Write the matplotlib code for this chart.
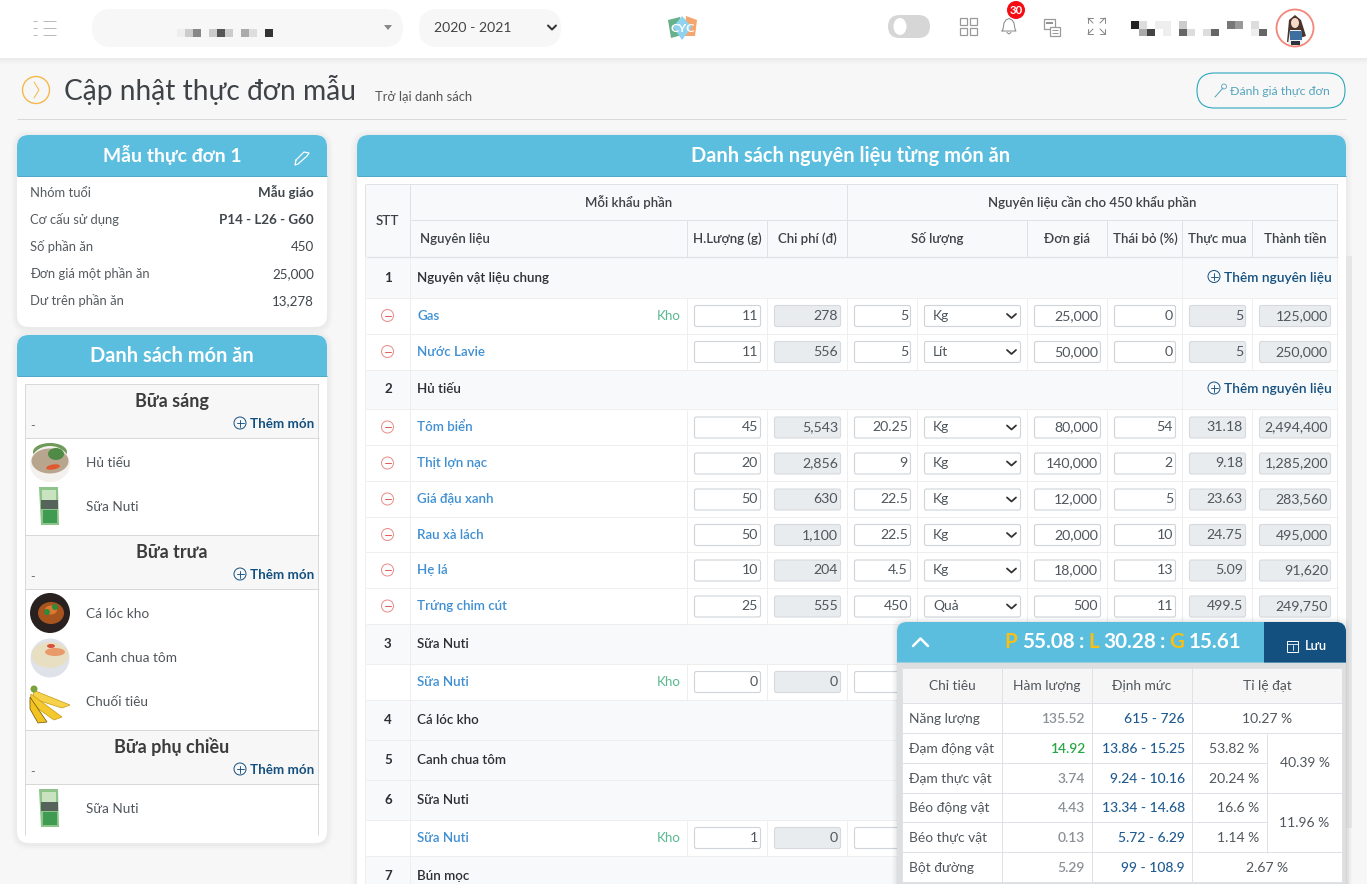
import matplotlib
matplotlib.use("Agg")
import matplotlib.pyplot as plt
from matplotlib.patches import Rectangle, FancyBboxPatch, Circle, Ellipse, Polygon, PathPatch
from matplotlib.path import Path

# ---------------- data ----------------
info_labels = ["Nhóm tuổi", "Cơ cấu sử dụng", "Số phần ăn", "Đơn giá một phần ăn", "Dư trên phần ăn"]
info_values = ["Mẫu giáo", "P14 - L26 - G60", "450", "25,000", "13,278"]

names = ["Gas", "Nước Lavie", "Tôm biển", "Thịt lợn nạc", "Giá đậu xanh", "Rau xà lách", "Hẹ lá", "Trứng chim cút"]
kho = [True, False, False, False, False, False, False, False]
hluong = ["11", "11", "45", "20", "50", "50", "10", "25"]
chiphi = ["278", "556", "5,543", "2,856", "630", "1,100", "204", "555"]
soluong = ["5", "5", "20.25", "9", "22.5", "22.5", "4.5", "450"]
donvi = ["Kg", "Lít", "Kg", "Kg", "Kg", "Kg", "Kg", "Quả"]
dongia = ["25,000", "50,000", "80,000", "140,000", "12,000", "20,000", "18,000", "500"]
thaibo = ["0", "0", "54", "2", "5", "10", "13", "11"]
thucmua = ["5", "5", "31.18", "9.18", "23.63", "24.75", "5.09", "499.5"]
thanhtien = ["125,000", "250,000", "2,494,400", "1,285,200", "283,560", "495,000", "91,620", "249,750"]

chi_tieu = ["Năng lượng", "Đạm động vật", "Đạm thực vật", "Béo động vật", "Béo thực vật", "Bột đường"]
ham_luong = ["135.52", "14.92", "3.74", "4.43", "0.13", "5.29"]
dinh_muc = ["615 - 726", "13.86 - 15.25", "9.24 - 10.16", "13.34 - 14.68", "5.72 - 6.29", "99 - 108.9"]
ti_le = ["10.27 %", "53.82 %", "20.24 %", "16.6 %", "1.14 %", "2.67 %"]
ti_le_group = ["40.39 %", "11.96 %"]

# ---------------- palette ----------------
BLUE = "#5bbedf"; BLUE_D = "#4fa9c8"; NAVY = "#14507f"; TXT = "#3a3f44"; INP = "#4f565c"
LINK = "#3f8fd2"; LINE = "#eeeeee"; GROUP = "#f8f9fa"; BORD = "#ced4da"; DIS = "#e9ecef"; PAGE = "#f7f7f7"
FONT = ["Lato", "Noto Sans", "DejaVu Sans"]

fig = plt.figure(figsize=(13.67, 8.84), dpi=100, facecolor=PAGE)
ax = fig.add_axes([0, 0, 1, 1])
ax.set_xlim(0, 1367); ax.set_ylim(884, 0); ax.axis("off")


def T(x, y, s, px=13, c=TXT, ha="left", w="normal", z=10):
    return ax.text(x, y + 0.36 * px, s, fontsize=px * 0.72 * 1.03, color=c, ha=ha, va="baseline",
                   fontweight=w, family=FONT, zorder=z)


def R(x0, y0, x1, y1, fc, ec="none", lw=0, z=1):
    ax.add_patch(Rectangle((x0, y0), x1 - x0, y1 - y0, fc=fc, ec=ec, lw=lw, zorder=z))


def RR(x0, y0, x1, y1, r, fc, ec="none", lw=0, z=1, alpha=None):
    ax.add_patch(FancyBboxPatch((x0, y0), x1 - x0, y1 - y0, boxstyle=f"round,pad=0,rounding_size={r}",
                                fc=fc, ec=ec, lw=lw, zorder=z, alpha=alpha))


def TOP(x0, y0, x1, y1, r, fc, z=2):
    v = [(x0, y1), (x0, y0 + r), (x0, y0), (x0 + r, y0), (x1 - r, y0), (x1, y0), (x1, y0 + r), (x1, y1), (x0, y1)]
    c = [Path.MOVETO, Path.LINETO, Path.CURVE3, Path.CURVE3, Path.LINETO, Path.CURVE3, Path.CURVE3, Path.LINETO, Path.CLOSEPOLY]
    ax.add_patch(PathPatch(Path(v, c), fc=fc, ec="none", zorder=z))


def HL(x0, x1, y, c=LINE, lw=1, z=3):
    ax.plot([x0, x1], [y - .5, y - .5], color=c, lw=lw * 0.72, zorder=z, solid_capstyle="butt")


def VL(x, y0, y1, c=LINE, lw=1, z=3):
    ax.plot([x - .5, x - .5], [y0, y1], color=c, lw=lw * 0.72, zorder=z, solid_capstyle="butt")


def L(xs, ys, c, lw=1, z=6):
    ax.plot(xs, ys, color=c, lw=lw * 0.72, zorder=z, solid_capstyle="round", solid_joinstyle="round")


def shadow(x0, y0, x1, y1, r):
    for g, a in ((6, .012), (4, .015), (2, .02)):
        RR(x0 - g, y0 - g + 1, x1 + g, y1 + g + 1, r + g, "#000000", z=0.5, alpha=a)


# ---------------- top bar ----------------
for g, a in ((6, .012), (4, .015), (2, .02)):
    R(0, 58, 1367, 58 + g, "#000000", z=0.6)
    ax.patches[-1].set_alpha(a)
R(0, 0, 1367, 58, "white", z=1)
for yy in (21, 28, 35):
    HL(33, 37, yy, "#bbbbbb"); HL(43, 56, yy, "#bbbbbb")
RR(92, 9, 403, 47, 19, PAGE, z=2)
RR(419, 9, 561, 47, 19, PAGE, z=2)
ax.add_patch(Polygon([(384, 25), (392, 25), (388, 30)], fc="#888888", ec="none", zorder=3))
T(434, 27, "2020 - 2021", 13.6, "#444444")
L([548, 552, 556], [25.5, 29.5, 25.5], "#333333", 2)
for x, c in zip([177, 185, 193, 209, 217, 225, 241, 249, 265],
                ["#eeeeee", "#cccccc", "#888888", "#cccccc", "#555555", "#cccccc", "#aaaaaa", "#dddddd", "#333333"]):
    R(x, 29, x + 8, 37, c, z=3)

# logo
ax.add_patch(Polygon([(668, 20), (680, 17), (682, 35), (671, 38)], fc="#66b08a", ec="none", zorder=3))
ax.add_patch(Polygon([(686, 16), (697, 20), (695, 36), (684, 36)], fc="#f4a66e", ec="none", zorder=3))
ax.add_patch(Polygon([(682, 16), (692, 27), (682, 40), (673, 27)], fc="#8fd3f0", ec="none", zorder=4))
T(682.5, 28, "CYC", 12, "white", ha="center", w="bold", z=5)

# toggle
RR(888, 15, 930, 38, 11.5, "#d6d6d6", z=3)
ax.add_patch(Ellipse((900, 26.5), 13, 17, fc="white", ec="none", zorder=4))
# grid icon
for xx in (960, 970):
    for yy in (18, 28):
        R(xx, yy, xx + 7, yy + 7, "none", "#999999", 0.9, z=4)
# bell
L([1002, 1003, 1004, 1006, 1009, 1012, 1014, 1015, 1016, 1002],
  [31, 29, 23, 20, 18.5, 20, 23, 29, 31, 31], "#888888", 1)
L([1007, 1009, 1011], [32.5, 34, 32.5], "#888888", 1)
ax.add_patch(Circle((1016, 10), 9, fc="#f40d12", ec="none", zorder=6))
T(1016, 10, "30", 11, "white", ha="center", w="bold", z=7)
# chat
R(1044, 19, 1055, 29, "none", "#999999", 0.9, z=4)
HL(1046, 1053, 23, "#777777", 1.6)
R(1050, 27, 1060, 36, "white", "#999999", 0.9, z=5)
HL(1052, 1058, 30, "#999999", 1, 6); HL(1052, 1058, 33, "#999999", 1, 6)
# fullscreen
for sx, sy, cx, cy in ((1, 1, 1088, 18), (-1, 1, 1105, 18), (1, -1, 1088, 34), (-1, -1, 1105, 34)):
    L([cx + sx * 5, cx, cx, ], [cy, cy, cy + sy * 5], "#888888", 1)
    L([cx, cx + sx * 5], [cy, cy + sy * 5], "#888888", 1)
# blurred name
top_blocks = [(1131, "#222222"), (1139, "#dddddd"), (1155, "#eeeeee"), (1163, "#eeeeee"), (1179, "#cccccc"),
              (1227, "#777777"), (1235, "#999999"), (1251, "#dddddd")]
low_blocks = [(1139, "#aaaaaa"), (1147, "#444444"), (1163, "#eeeeee"), (1179, "#666666"), (1187, "#dddddd"),
              (1203, "#dddddd"), (1211, "#666666"), (1251, "#eeeeee"), (1259, "#666666")]
for x, c in top_blocks:
    R(x, 21, x + 8, 29, c, z=3)
for x, c in low_blocks:
    R(x, 29, x + 8, 36, c, z=3)
# avatar
ax.add_patch(Circle((1295, 28), 18.5, fc="white", ec="#f5867a", lw=1.3, zorder=3))
ax.add_patch(Polygon([(1287, 42), (1289, 20), (1295, 15), (1301, 20), (1306, 36), (1300, 38), (1290, 42)],
                     fc="#4a3328", ec="none", zorder=4))
ax.add_patch(Ellipse((1295, 23), 8, 10, fc="#f6d9c8", ec="none", zorder=5))
ax.add_patch(Polygon([(1288, 44), (1290, 30), (1301, 30), (1303, 44)], fc="#eef0f2", ec="none", zorder=5))
R(1289.5, 31, 1301.5, 40, "#3f6ea0", z=6)
R(1291, 41, 1300, 45, "#2c3440", z=6)

# ---------------- page title ----------------
ax.add_patch(Circle((36, 90), 13.5, fc="none", ec="#f7b84b", lw=1.0, zorder=3))
L([34, 39, 34], [82, 90, 98], "#f7b84b", 1)
T(64, 90, "Cập nhật thực đơn mẫu", 27.3, "#3f4347")
T(375, 96, "Trở lại danh sách", 12.6, "#555555")
RR(1197, 73, 1345, 108, 17.5, PAGE, "#2ba7bd", 0.8, z=3)
T(1230, 91, "Đánh giá thực đơn", 11.9, "#55a4bd")
L([1215, 1223], [97, 88], "#55a4bd", 1)
ax.add_patch(Circle((1224, 86.5), 2.5, fc="none", ec="#55a4bd", lw=.6, zorder=5))
HL(17, 1346, 119, "#d9d9d9")

# ---------------- left card 1 ----------------
shadow(17, 135, 327, 327, 12)
RR(17, 135, 327, 327, 12, "white", z=1)
TOP(17, 135, 327, 176, 12, BLUE)
HL(17, 327, 176, BLUE_D, 1)
T(172, 155, "Mẫu thực đơn 1", 18.8, "white", ha="center", w="bold")
L([296, 304, 309, 307, 298, 295, 296], [160, 152, 153, 156, 164, 165, 160], "white", 1.2)
for i, (a, b) in enumerate(zip(info_labels, info_values)):
    y = 192 + 27 * i
    T(30, y, a, 12.6, "#555a5f")
    T(314, y, b, 13, "#40464b", ha="right", w="bold" if i < 2 else "normal")

# ---------------- left card 2 ----------------
shadow(17, 335, 327, 843, 12)
RR(17, 335, 327, 843, 12, "white", z=1)
TOP(17, 335, 327, 376, 12, BLUE)
HL(17, 327, 376, BLUE_D, 1)
T(172, 355, "Danh sách món ăn", 19.4, "white", ha="center", w="bold")


def plus(cx, cy, r, c=NAVY):
    ax.add_patch(Circle((cx, cy), r, fc="none", ec=c, lw=.7, zorder=6))
    L([cx - r + 2.5, cx + r - 2.5], [cy, cy], c, .9); L([cx, cx], [cy - r + 2.5, cy + r - 2.5], c, .9)


meal_titles = ["Bữa sáng", "Bữa trưa", "Bữa phụ chiều"]
meal_tops = [384, 535, 730]
for title, y0 in zip(meal_titles, meal_tops):
    R(25, y0, 319, y0 + 54, PAGE, z=2)
    HL(25, 319, y0 + .5, "#d8d8d8"); HL(25, 319, y0 + 54.5, "#d8d8d8")
    T(172, y0 + 16.5, title, 17.5, "#3c3c3c", ha="center", w="bold")
    T(30, y0 + 41, "-", 12, "#555555")
    plus(240, y0 + 39, 6)
    T(250, y0 + 39, "Thêm món", 13, NAVY, w="bold")
VL(25.5, 384, 835, "#d8d8d8"); VL(318.5, 384, 835, "#d8d8d8")

dishes = ["Hủ tiếu", "Sữa Nuti", "Cá lóc kho", "Canh chua tôm", "Chuối tiêu", "Sữa Nuti"]
dish_y = [462, 506, 613, 657, 701, 808]
dish_kind = ["soup", "milk", "fish", "soup2", "banana", "milk"]
for name, y, k in zip(dishes, dish_y, dish_kind):
    T(86, y, name, 13.2, "#50565b")
    cx = 50
    if k == "soup":
        ax.add_patch(Ellipse((cx, y - 10), 34, 18, fc="#6f9a58", ec="none", zorder=3))
        ax.add_patch(Ellipse((cx, y + 2), 40, 36, fc="#f3f1ee", ec="none", zorder=3.5))
        ax.add_patch(Ellipse((cx, y - 1), 37, 25, fc="#b8a58e", ec="none", zorder=4))
        ax.add_patch(Ellipse((cx + 6, y - 8), 16, 12, fc="#4f8a46", ec="none", zorder=5))
        ax.add_patch(Ellipse((cx + 3, y + 5), 14, 5, angle=-10, fc="#e2582e", ec="none", zorder=5))
    elif k == "soup2":
        ax.add_patch(Circle((cx, y + 1), 19.5, fc="#dfe2e8", ec="none", zorder=3))
        ax.add_patch(Ellipse((cx, y - 2), 37, 26, fc="#e8dfc3", ec="none", zorder=4))
        ax.add_patch(Ellipse((cx + 5, y - 5), 20, 8, fc="#e89a6a", ec="none", zorder=5))
        ax.add_patch(Ellipse((cx + 1, y - 11), 8, 4, fc="#d8503a", ec="none", zorder=5))
    elif k == "milk":
        ax.add_patch(Polygon([(39, y - 19), (58, y - 19), (59, y + 19), (41, y + 19)], fc="#8cc48a", ec="none", zorder=3))
        R(42, y - 16, 56, y - 5, "#c9e2bf", z=4)
        R(41, y - 6, 58, y + 3, "#55635a", z=4)
        R(43, y + 4, 57, y + 17, "#3f9a52", z=4)
    elif k == "fish":
        ax.add_patch(Circle((cx, y), 20, fc="#29211f", ec="none", zorder=3))
        ax.add_patch(Ellipse((cx + 1, y), 26, 22, fc="#a8541f", ec="none", zorder=4))
        ax.add_patch(Ellipse((cx + 1, y - 3), 12, 9, fc="#d9792f", ec="none", zorder=5))
        ax.add_patch(Circle((cx + 5, y - 6), 3, fc="#2f8a3a", ec="none", zorder=6))
        ax.add_patch(Circle((cx - 3, y - 1), 3, fc="#2f8a3a", ec="none", zorder=6))
    else:
        v = [(33, y - 11), (70, y + 4), (62, y + 7), (34, y - 2)]
        ax.add_patch(Polygon(v, fc="#f6d24a", ec="#c79a12", lw=.5, zorder=4))
        v = [(31, y - 7), (62, y + 16), (54, y + 19), (30, y + 2)]
        ax.add_patch(Polygon(v, fc="#f4c92e", ec="#c79a12", lw=.5, zorder=5))
        v = [(30, y - 4), (47, y + 21), (38, y + 22), (30, y + 8)]
        ax.add_patch(Polygon(v, fc="#f2c21f", ec="#6b5210", lw=.5, zorder=6))
        ax.add_patch(Circle((34, y - 12), 3.5, fc="#7ba23c", ec="none", zorder=7))

# ---------------- main panel ----------------
R(1346, 256, 1352, 828, "#e6e6e6", z=0.7)
shadow(357, 135, 1346, 900, 12)
RR(357, 135, 1346, 900, 12, "white", z=1)
TOP(357, 135, 1346, 176, 12, BLUE)
HL(357, 1346, 176, BLUE_D, 1)
T(851, 155, "Danh sách nguyên liệu từng món ăn", 19.4, "white", ha="center", w="bold")

X = [365.5, 410.5, 687.5, 767.5, 847.5, 917.5, 1027.5, 1107.5, 1182.5, 1252.5, 1337.5]
R(X[0], 184, X[-1], 257, GROUP, z=1.5)
HEAD = "#dee2e6"
HL(X[0], X[-1], 184.5, HEAD); HL(X[1], X[-1], 220.5, HEAD); HL(X[0], X[-1], 257, HEAD, 1.2)
VL(X[0], 184, 257, HEAD); VL(X[1], 184, 257, HEAD); VL(X[-1], 184, 257, HEAD)
VL(X[4], 184, 257, HEAD)
for xx in (X[2], X[3], X[6], X[7], X[8], X[9]):
    VL(xx, 220, 257, HEAD)
HEADC = "#3c4247"
T(387.5, 220, "STT", 13, HEADC, ha="center", w=600)
T(629, 202, "Mỗi khẩu phần", 12.9, HEADC, ha="center", w=600)
T(1092.5, 202, "Nguyên liệu cần cho 450 khẩu phần", 12.9, HEADC, ha="center", w=600)
head_labels = ["Nguyên liệu", "H.Lượng (g)", "Chi phí (đ)", "Số lượng", "Đơn giá", "Thái bỏ (%)", "Thực mua", "Thành tiền"]
head_x = [420, 727.5, 807.5, 937.5, 1067, 1145, 1217.5, 1295]
for i, (lab, hx) in enumerate(zip(head_labels, head_x)):
    T(hx, 238.5, lab, 12.9, HEADC, ha="left" if i == 0 else "center", w=600)


def inp(x0, x1, yc, s, disabled=False):
    fc = DIS if disabled else "white"
    RR(x0 + .5, yc - 10.5, x1 - .5, yc + 10.5, 2, fc, BORD if not disabled else "#d6dade", 0.8, z=4)
    if s is not None:
        T(x1 - 3, yc - 1, s, 13.7, INP, ha="right", z=7)


def select(x0, x1, yc, s):
    RR(x0 + .5, yc - 10.5, x1 - .5, yc + 10.5, 2, "white", BORD, 0.8, z=4)
    T(x0 + 9, yc - 1, s, 13.5, INP, z=7)
    L([x1 - 14, x1 - 9.5, x1 - 5], [yc - 2, yc + 2, yc - 2], "#333333", 1.8)


def minus(cx, yc):
    ax.add_patch(Circle((cx, yc), 6, fc="none", ec="#ea8a86", lw=.7, zorder=6))
    L([cx - 3, cx + 3], [yc, yc], "#e2605a", 1)


def row(y0, y1, idx):
    yc = (y0 + y1) / 2
    HL(X[0], X[-1], y1, LINE)
    for xx in X:
        VL(xx, y0, y1, LINE)
    minus(387.5, yc - .5)
    T(417, yc - 1, names[idx], 13, LINK, w=600)
    if kho[idx]:
        T(681, yc - 1, "Kho", 13, "#58b98f", ha="right")
    inp(694, 761, yc, hluong[idx])
    inp(774, 841, yc, chiphi[idx], True)
    inp(854, 911, yc, soluong[idx])
    select(924, 1021, yc, donvi[idx])
    inp(1034, 1101, yc, dongia[idx])
    inp(1114, 1176, yc, thaibo[idx])
    inp(1189, 1246, yc, thucmua[idx], True)
    inp(1259, 1331, yc, thanhtien[idx], True)


def group(y0, y1, num, title, add=True):
    yc = (y0 + y1) / 2
    R(X[0], y0, X[-1], y1, GROUP, z=1.5)
    HL(X[0], X[-1], y1, LINE)
    VL(X[0], y0, y1, LINE); VL(X[1], y0, y1, LINE); VL(X[-1], y0, y1, LINE)
    T(388, yc - 1, num, 13, "#2c3034", ha="center", w="bold")
    T(417, yc - 1, title, 13, "#2c3034", w=600)
    if add:
        VL(X[8], y0, y1, LINE)
        plus(1214, yc - 1.5, 6)
        T(1224, yc - 1, "Thêm nguyên liệu", 13.2, NAVY, w=600)


group_titles = ["Nguyên vật liệu chung", "Hủ tiếu", "Sữa Nuti", "Cá lóc kho", "Canh chua tôm", "Sữa Nuti", "Bún mọc"]
group_bounds = [(258, 298), (369.5, 409.5), (624.5, 664), (700, 740), (740, 780), (780, 820), (856, 896)]
group_add = [True, True, False, False, False, False, False]
for i, (t, (a, b), ad) in enumerate(zip(group_titles, group_bounds, group_add)):
    group(a, b, str(i + 1), t, ad)

row(298, 334, 0); row(334, 370, 1)
row_tops = [409.5, 445.5, 481.5, 517.5, 552.5, 588.5]
row_bots = [445.5, 481.5, 517.5, 552.5, 588.5, 624.5]
for i, (a, b) in enumerate(zip(row_tops, row_bots)):
    row(a, b, i + 2)

nuti_y = [(664, 700), (820, 856)]
nuti_hl = ["0", "1"]
for (a, b), v in zip(nuti_y, nuti_hl):
    yc = (a + b) / 2
    HL(X[0], X[-1], b, LINE)
    for xx in X[:5]:
        VL(xx, a, b, LINE)
    T(417, yc - 1, "Sữa Nuti", 13, LINK, w=600)
    T(681, yc - 1, "Kho", 13, "#58b98f", ha="right")
    inp(694, 761, yc, v)
    inp(774, 841, yc, "0", True)
    inp(854, 911, yc, None)

# ---------------- floating summary ----------------
Z = 20
for g, a in ((5, .02), (3, .03), (1, .04)):
    RR(897 - g, 622 - g, 1346 + g, 900, 10, "#000000", z=Z - 1, alpha=a)
RR(897, 622, 1346, 900, 10, "#dcdee0", z=Z)
TOP(897, 622, 1346, 662.5, 10, BLUE, z=Z + .1)
v = [(1264, 622), (1336, 622), (1346, 622), (1346, 632), (1346, 662.5), (1264, 662.5), (1264, 622)]
c = [Path.MOVETO, Path.LINETO, Path.CURVE3, Path.CURVE3, Path.LINETO, Path.LINETO, Path.CLOSEPOLY]
ax.add_patch(PathPatch(Path(v, c), fc=NAVY, ec="none", zorder=Z + .2))
ax.plot([913, 920.5, 928], [646, 638.5, 646], color="white", lw=1.8, zorder=Z + 1, solid_capstyle="round")
ppos = [(1004, "P", "#f9bf11"), (1022, "55.08", "white"), (1079, ":", "white"), (1088, "L", "#f9bf11"),
        (1103, "30.28", "white"), (1160, ":", "white"), (1169, "G", "#f9bf11"), (1189, "15.61", "white")]
for x, s, col in ppos:
    T(x, 641, s, 20, col, w="bold", z=Z + 1)
R(1287, 640.5, 1298, 652, "none", "white", .7, z=Z + 1)
HL(1287, 1298, 644, "white", .8, Z + 1)
L([1292.5, 1292.5], [645, 650], "white", .8, Z + 1)
T(1305, 645, "Lưu", 12.5, "white", w=600, z=Z + 1)

PX = [902, 1002, 1092, 1192, 1267, 1342]
PY = [668, 703.5, 733.5, 763.5, 793.5, 822.5, 852.5, 882]
R(PX[0], PY[0], PX[-1], PY[-1], "white", z=Z + .3)
R(PX[0], PY[0], PX[-1], PY[1], "#f6f6f6", z=Z + .4)
GR = "#dee2e6"
for y in PY:
    HL(PX[0], PX[-1] if y in (PY[0], PY[1], PY[2], PY[-1], PY[-2], PY[4]) else PX[4], y, GR, 1, Z + .5)
for x in PX[:4] + [PX[-1]]:
    VL(x + .5 if x != 902 else x, PY[0], PY[-1], GR, 1, Z + .5)
VL(PX[4] + .5, PY[2], PY[6], GR, 1, Z + .5)
for i, h in enumerate(["Chỉ tiêu", "Hàm lượng", "Định mức", "Tỉ lệ đạt"]):
    T((PX[i] + PX[i + 1 if i < 3 else 5]) / 2, 685, h, 13.3, "#50565b", ha="center", z=Z + 1)
for i in range(6):
    yc = (PY[i + 1] + PY[i + 2]) / 2
    T(909, yc - .5, chi_tieu[i], 13.3, "#50565b", z=Z + 1)
    green = i == 1
    T(1085, yc - .5, ham_luong[i], 13.5, "#28a745" if green else "#8c9196", ha="right", w=600, z=Z + 1)
    T(1185, yc - .5, dinh_muc[i], 13.5, "#1f5a90", ha="right", w=500, z=Z + 1)
    if i in (0, 5):
        T((PX[3] + PX[5]) / 2, yc - .5, ti_le[i], 13.5, "#50565b", ha="center", z=Z + 1)
    else:
        T(1259, yc - .5, ti_le[i], 13.5, "#50565b", ha="right", z=Z + 1)
T(1304.5, 762, ti_le_group[0], 13.5, "#50565b", ha="center", z=Z + 1)
T(1304.5, 822, ti_le_group[1], 13.5, "#50565b", ha="center", z=Z + 1)

fig.savefig("out.png", dpi=100, facecolor=PAGE)
